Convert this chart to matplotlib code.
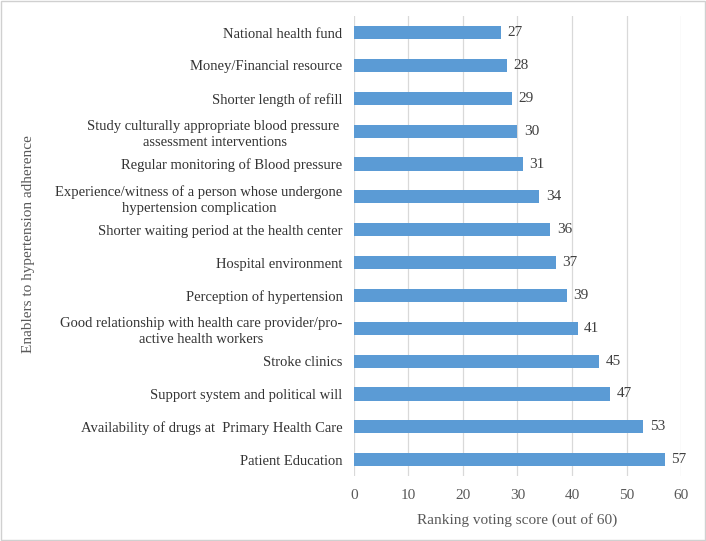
import matplotlib.pyplot as plt
from matplotlib.patches import Rectangle

plt.rcParams['font.family'] = ['Liberation Serif', 'DejaVu Serif']

# data, listed from bottom to top
enablers = [
    "Patient Education",
    "Availability of drugs at  Primary Health Care",
    "Support system and political will",
    "Stroke clinics",
    "Good relationship with health care provider/pro-\nactive health workers",
    "Perception of hypertension",
    "Hospital environment",
    "Shorter waiting period at the health center",
    "Experience/witness of a person whose undergone\nhypertension complication",
    "Regular monitoring of Blood pressure",
    "Study culturally appropriate blood pressure \nassessment interventions",
    "Shorter length of refill",
    "Money/Financial resource",
    "National health fund",
]
scores = [57, 53, 47, 45, 41, 39, 37, 36, 34, 31, 30, 29, 28, 27]

fig = plt.figure(figsize=(7.06, 5.41), dpi=100)
ax = fig.add_axes([0.501, 0.12, 0.464, 0.85])

pos = list(range(len(enablers)))
ax.barh(pos, scores, height=0.4, color='#5B9BD5', zorder=3)
for p, s in zip(pos, scores):
    ax.text(s + 1.2, p, str(s), va='center', ha='left', fontsize=11, color='#404040')

ax.set_xlim(0, 60)
ax.set_ylim(-0.5, len(enablers) - 0.5)
ax.set_yticks(pos)
ax.set_yticklabels(enablers, fontsize=10.5, color='#333333', linespacing=1.3,
                   multialignment='center')
ax.set_xticks(range(0, 61, 10))
ax.tick_params(axis='x', labelsize=11, colors='#595959', length=0, pad=9)
ax.tick_params(axis='y', length=0, pad=8)
ax.grid(axis='x', color='#d9d9d9', linewidth=0.9, zorder=0)
for sp in ax.spines.values():
    sp.set_visible(False)

ax.set_xlabel("Ranking voting score (out of 60)", fontsize=11, color='#595959', labelpad=8)
fig.text(0.04, 0.548, "Enablers to hypertension adherence", rotation=90,
         va='center', ha='center', fontsize=11, color='#595959')

fig.patches.append(Rectangle((0.002, 0.002), 0.996, 0.996, transform=fig.transFigure,
                             fill=False, edgecolor='#d0d0d0', linewidth=1))

fig.savefig("out.png", dpi=100)
